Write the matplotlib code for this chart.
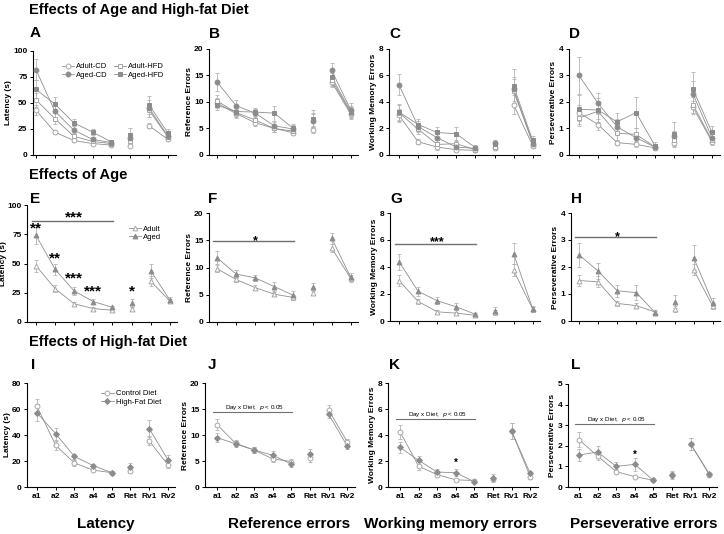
'''Morris水迷宫行为学结果：年龄与高脂饮食的影响（12个小图）'''

import matplotlib.pyplot as plt
from matplotlib.lines import Line2D
import numpy as np

plt.rcParams['font.family'] = ['Liberation Sans', 'DejaVu Sans']

days = ['a1', 'a2', 'a3', 'a4', 'a5', 'Ret', 'Rv1', 'Rv2']

# ---------- A-D：年龄 x 饮食 四组 ----------
lat_adult_cd = [43, 22, 14, 11, 9.5, 9, 28, 15]
lat_adult_cd_se = [5, 1.5, 1.5, 1, 1, 1.5, 2.5, 1.5]
lat_aged_cd = [82, 42, 24, 15, 12, 16, 45, 18]
lat_aged_cd_se = [10, 6, 3.5, 2, 1.5, 5, 8, 3]
lat_adult_hfd = [53, 35, 18, 13, 11, 13, 43, 17]
lat_adult_hfd_se = [7, 5, 3, 2, 1.5, 4, 6, 3]
lat_aged_hfd = [63, 49, 31, 22, 12.5, 19, 48, 21]
lat_aged_hfd_se = [9, 7, 3.5, 3, 2, 7, 9, 4]

ref_adult_cd = [9.8, 7.8, 6.1, 5.0, 4.2, 4.7, 13.8, 7.7]
ref_adult_cd_se = [1, 0.8, 0.7, 0.6, 0.5, 0.5, 1.0, 0.9]
ref_aged_cd = [13.8, 9.3, 7.9, 5.5, 4.9, 6.5, 16.0, 8.5]
ref_aged_cd_se = [1.7, 1.0, 0.8, 0.8, 0.8, 1.5, 1.3, 1.3]
ref_adult_hfd = [10.2, 8.0, 6.6, 5.0, 4.5, 6.6, 14.2, 8.0]
ref_adult_hfd_se = [1.2, 0.9, 0.8, 0.6, 0.6, 1.2, 1.2, 1.0]
ref_aged_hfd = [9.4, 8.2, 8.1, 7.9, 5.0, 6.8, 14.7, 8.2]
ref_aged_hfd_se = [1.0, 0.9, 0.8, 1.4, 0.8, 1.6, 1.4, 1.1]

wm_adult_cd = [3.0, 1.0, 0.6, 0.4, 0.35, 0.5, 3.8, 0.7]
wm_adult_cd_se = [0.5, 0.2, 0.2, 0.15, 0.1, 0.15, 0.7, 0.2]
wm_aged_cd = [5.3, 2.15, 1.3, 0.6, 0.5, 0.9, 5.0, 0.85]
wm_aged_cd_se = [0.8, 0.4, 0.3, 0.2, 0.15, 0.2, 0.9, 0.2]
wm_adult_hfd = [3.2, 1.95, 0.8, 0.85, 0.4, 0.6, 4.8, 1.0]
wm_adult_hfd_se = [0.6, 0.4, 0.3, 0.3, 0.15, 0.2, 0.9, 0.25]
wm_aged_hfd = [3.25, 2.3, 1.7, 1.6, 0.55, 0.8, 5.2, 1.1]
wm_aged_hfd_se = [0.6, 0.4, 0.45, 0.55, 0.2, 0.25, 1.3, 0.3]

pe_adult_cd = [1.6, 1.15, 0.47, 0.4, 0.27, 0.45, 1.8, 0.5]
pe_adult_cd_se = [0.3, 0.2, 0.1, 0.1, 0.08, 0.15, 0.25, 0.12]
pe_aged_cd = [3.0, 1.95, 1.07, 0.65, 0.3, 0.72, 2.3, 0.65]
pe_aged_cd_se = [0.7, 0.4, 0.3, 0.2, 0.1, 0.2, 0.5, 0.2]
pe_adult_hfd = [1.4, 1.65, 0.82, 0.78, 0.3, 0.55, 1.9, 0.55]
pe_adult_hfd_se = [0.3, 0.4, 0.25, 0.25, 0.1, 0.2, 0.3, 0.15]
pe_aged_hfd = [1.72, 1.7, 1.25, 1.6, 0.35, 0.8, 2.48, 0.85]
pe_aged_hfd_se = [0.55, 0.45, 0.33, 0.57, 0.15, 0.43, 0.65, 0.23]

# ---------- E-H：年龄效应 ----------
lat_adult = [48, 28.5, 15.5, 11.5, 10, 11, 35, 18]
lat_adult_se = [5, 3, 1.5, 1, 1, 1.5, 4.5, 1.5]
lat_aged = [74, 45, 26.5, 17.5, 12.5, 16, 44, 19]
lat_aged_se = [7, 5, 3, 2, 1.5, 3.5, 6, 2]

ref_adult = [9.8, 7.8, 6.3, 5.1, 4.5, 5.4, 13.6, 8.0]
ref_adult_se = [0.7, 0.5, 0.5, 0.4, 0.4, 0.5, 0.8, 0.6]
ref_aged = [11.8, 8.8, 8.1, 6.5, 4.9, 6.4, 15.4, 8.2]
ref_aged_se = [1.2, 0.7, 0.6, 0.8, 0.8, 0.8, 1.0, 0.7]

wm_adult = [3.0, 1.45, 0.68, 0.58, 0.42, 0.65, 3.75, 0.88]
wm_adult_se = [0.4, 0.2, 0.1, 0.1, 0.08, 0.15, 0.45, 0.15]
wm_aged = [4.4, 2.2, 1.5, 1.05, 0.5, 0.75, 5.0, 0.9]
wm_aged_se = [0.6, 0.35, 0.25, 0.25, 0.1, 0.3, 0.75, 0.2]

pe_adult = [1.5, 1.45, 0.65, 0.57, 0.33, 0.45, 1.9, 0.55]
pe_adult_se = [0.2, 0.2, 0.1, 0.1, 0.06, 0.12, 0.2, 0.1]
pe_aged = [2.45, 1.85, 1.12, 1.05, 0.3, 0.72, 2.35, 0.68]
pe_aged_se = [0.45, 0.3, 0.22, 0.27, 0.08, 0.25, 0.45, 0.18]

# ---------- I-L：高脂饮食效应 ----------
lat_cd = [62, 32, 18.5, 13, 11, 12, 35.5, 17]
lat_cd_se = [6, 3.5, 2, 1, 1, 1.5, 3.5, 2]
lat_hfd = [57, 41, 23.5, 16.5, 11, 15.5, 45, 21]
lat_hfd_se = [6.5, 4.5, 2, 1.5, 1, 3, 6.5, 3.5]

ref_cd = [12, 8.4, 7.1, 5.4, 4.9, 5.5, 14.8, 8.7]
ref_cd_se = [1.0, 0.6, 0.5, 0.5, 0.5, 0.6, 1.0, 0.5]
ref_hfd = [9.5, 8.3, 7.1, 6.1, 4.4, 6.4, 14.0, 7.9]
ref_hfd_se = [0.8, 0.6, 0.5, 0.8, 0.5, 1.0, 0.8, 0.6]

wm_cd = [4.25, 1.6, 0.95, 0.55, 0.5, 0.65, 4.3, 0.8]
wm_cd_se = [0.55, 0.3, 0.15, 0.1, 0.08, 0.15, 0.6, 0.2]
wm_hfd = [3.05, 2.05, 1.15, 1.1, 0.4, 0.7, 4.3, 1.05]
wm_hfd_se = [0.45, 0.35, 0.2, 0.25, 0.1, 0.3, 0.6, 0.2]

pe_cd = [2.3, 1.5, 0.75, 0.5, 0.33, 0.6, 2.1, 0.6]
pe_cd_se = [0.35, 0.2, 0.12, 0.06, 0.05, 0.15, 0.3, 0.1]
pe_hfd = [1.55, 1.7, 1.0, 1.1, 0.32, 0.6, 2.08, 0.65]
pe_hfd_se = [0.3, 0.3, 0.2, 0.3, 0.05, 0.2, 0.3, 0.1]

W, H = 724, 534
fill_c = '#8c8c8c'   # 实心灰色
open_c = '#a8a8a8'   # 空心点边框
line_c = '#8f8f8f'
err_c = '#b4b4b4'

fig = plt.figure(figsize=(W / 100, H / 100), dpi=100)
x = np.arange(len(days))


def make_ax(L, T, S, top, bottom, ymax, ystep, ylabel, xlabels=False):
    # L:y轴像素位置 T:第一个刻度像素 S:刻度间距
    right = T + 7.4 * S
    ax = fig.add_axes([L / W, 1 - bottom / H, (right - L) / W, (bottom - top) / H])
    ax.set_xlim(-(T - L) / S, 7.4)
    ax.set_ylim(0, ymax)
    ax.set_yticks(np.arange(0, ymax + ystep / 2, ystep))
    ax.set_xticks(x)
    if xlabels:
        ax.set_xticklabels(days)
    else:
        ax.set_xticklabels([])
    ax.spines['top'].set_visible(False)
    ax.spines['right'].set_visible(False)
    for s in ['left', 'bottom']:
        ax.spines[s].set_linewidth(0.8)
    ax.tick_params(direction='out', length=2.5, width=0.7, labelsize=6, pad=1.5)
    for lb in ax.get_yticklabels() + ax.get_xticklabels():
        lb.set_fontweight('bold')
    ax.set_ylabel(ylabel, fontsize=6, fontweight='bold', labelpad=1)
    return ax


def draw(ax, m, e, marker, filled, ms=3.5):
    m = np.array(m)
    fc = fill_c if filled else 'white'
    ec = fill_c if filled else open_c
    ax.errorbar(x, m, yerr=e, fmt='none', ecolor=err_c, elinewidth=0.6,
                capsize=1.5, capthick=0.6, zorder=2)
    for seg in (slice(0, 5), slice(6, 8)):
        ax.plot(x[seg], m[seg], color=line_c, lw=0.6, zorder=3)
    ax.plot(x, m, ls='none', marker=marker, ms=ms, mfc=fc, mec=ec, mew=0.7, zorder=4)


def handle(marker, filled, ms=3.5):
    fc = fill_c if filled else 'white'
    ec = fill_c if filled else open_c
    return Line2D([0], [0], color=line_c, lw=0.6, marker=marker, ms=ms, mfc=fc, mec=ec, mew=0.7)


def sig_bar(ax, y, label, size, bold=True, dy=0.0):
    ax.plot([-0.2, 4.05], [y, y], color='#707070', lw=1, clip_on=False)
    ax.text(2, y + dy, label, ha='center', va='bottom', fontsize=size,
            fontweight='bold' if bold else 'normal')


def dxd(ax, y):
    ax.plot([-0.2, 4.05], [y, y], color='#707070', lw=0.8, clip_on=False)
    ax.text(2, y, 'Day x Diet,  $\\it{p}$ < 0.05', ha='center', va='bottom', fontsize=4.5)


# ---------- 第一行 ----------
axA = make_ax(33, 36, 18.86, 51, 155, 100, 25, 'Latency (s)')
axB = make_ax(209, 217, 19.1, 49, 155, 20, 5, 'Reference Errors')
axC = make_ax(389, 399, 19.1, 49, 155, 8, 2, 'Working Memory Errors')
axD = make_ax(569, 579, 19.0, 49, 155, 4, 1, 'Perseverative Errors')
row1 = [(axA, lat_adult_cd, lat_adult_cd_se, lat_aged_cd, lat_aged_cd_se,
         lat_adult_hfd, lat_adult_hfd_se, lat_aged_hfd, lat_aged_hfd_se),
        (axB, ref_adult_cd, ref_adult_cd_se, ref_aged_cd, ref_aged_cd_se,
         ref_adult_hfd, ref_adult_hfd_se, ref_aged_hfd, ref_aged_hfd_se),
        (axC, wm_adult_cd, wm_adult_cd_se, wm_aged_cd, wm_aged_cd_se,
         wm_adult_hfd, wm_adult_hfd_se, wm_aged_hfd, wm_aged_hfd_se),
        (axD, pe_adult_cd, pe_adult_cd_se, pe_aged_cd, pe_aged_cd_se,
         pe_adult_hfd, pe_adult_hfd_se, pe_aged_hfd, pe_aged_hfd_se)]
for ax, a1, a1e, a2, a2e, a3, a3e, a4, a4e in row1:
    draw(ax, a1, a1e, 'o', False)
    draw(ax, a3, a3e, 's', False)
    draw(ax, a2, a2e, 'o', True)
    draw(ax, a4, a4e, 's', True)
axA.legend([handle('o', False), handle('o', True), handle('s', False), handle('s', True)],
           ['Adult-CD', 'Aged-CD', 'Adult-HFD', 'Aged-HFD'], ncol=2, frameon=False,
           fontsize=5.5, loc='upper right', bbox_to_anchor=(0.95, 0.92), handlelength=1.6,
           handletextpad=0.3, columnspacing=0.8, labelspacing=0.15, borderpad=0)

# ---------- 第二行 ----------
axE = make_ax(27, 36, 19.1, 205, 322, 100, 25, 'Latency (s)')
axF = make_ax(209, 217, 19.1, 213, 322, 20, 5, 'Reference Errors')
axG = make_ax(390, 399, 19.1, 213, 321, 8, 2, 'Working Memory Errors')
axH = make_ax(571, 579, 19.1, 213, 321, 4, 1, 'Perseverative Errors')
axE.yaxis.labelpad = 0
for ax, m1, e1, m2, e2 in [(axE, lat_adult, lat_adult_se, lat_aged, lat_aged_se),
                           (axF, ref_adult, ref_adult_se, ref_aged, ref_aged_se),
                           (axG, wm_adult, wm_adult_se, wm_aged, wm_aged_se),
                           (axH, pe_adult, pe_adult_se, pe_aged, pe_aged_se)]:
    draw(ax, m1, e1, '^', False)
    draw(ax, m2, e2, '^', True)
axE.legend([handle('^', False), handle('^', True)], ['Adult', 'Aged'], frameon=False,
           fontsize=5.5, loc='upper right', bbox_to_anchor=(0.92, 0.86), handlelength=1.6,
           handletextpad=0.3, labelspacing=0.15, borderpad=0)

sig_bar(axE, 86, '***', 11, dy=-3)
for xi, yi, s in [(0, 74, '**'), (1, 48, '**'), (2, 31, '***'), (3, 20, '***'), (5, 20, '*')]:
    axE.text(xi, yi, s, ha='center', va='bottom', fontsize=11, fontweight='bold')
sig_bar(axF, 14.8, '*', 9, dy=-1)
sig_bar(axG, 5.7, '***', 9, dy=-0.3)
sig_bar(axH, 3.1, '*', 9, dy=-0.2)

# ---------- 第三行 ----------
axI = make_ax(27, 37, 18.7, 383, 487, 80, 20, 'Latency (s)', True)
axJ = make_ax(205, 217, 18.6, 383, 487, 20, 5, 'Reference Errors', True)
axK = make_ax(388, 400, 18.6, 383, 487, 8, 2, 'Working Memory Errors', True)
axL = make_ax(568, 579, 18.6, 384, 487, 5, 1, 'Perseverative Errors', True)
for ax, m1, e1, m2, e2 in [(axI, lat_cd, lat_cd_se, lat_hfd, lat_hfd_se),
                           (axJ, ref_cd, ref_cd_se, ref_hfd, ref_hfd_se),
                           (axK, wm_cd, wm_cd_se, wm_hfd, wm_hfd_se),
                           (axL, pe_cd, pe_cd_se, pe_hfd, pe_hfd_se)]:
    draw(ax, m1, e1, 'o', False)
    draw(ax, m2, e2, 'D', True, ms=3)
axI.legend([handle('o', False), handle('D', True, 3)], ['Control Diet', 'High-Fat Diet'],
           frameon=False, fontsize=5.5, loc='upper right', bbox_to_anchor=(0.93, 0.97),
           handlelength=1.6, handletextpad=0.3, labelspacing=0.15, borderpad=0)
dxd(axJ, 14.5)
dxd(axK, 5.2)
dxd(axL, 3.06)
axK.text(3, 1.45, '*', ha='center', va='bottom', fontsize=7, fontweight='bold')
axL.text(3, 1.3, '*', ha='center', va='bottom', fontsize=7, fontweight='bold')

# ---------- 标题、字母、列标题 ----------
def ftext(px, py, s, size, ha='left'):
    fig.text(px / W, 1 - py / H, s, fontsize=size, fontweight='bold', ha=ha, va='center')


ftext(29, 10, 'Effects of Age and High-fat Diet', 10.5)
ftext(29, 175, 'Effects of Age', 10.5)
ftext(29, 342, 'Effects of High-fat Diet', 10.5)
for px, py, s in [(30, 33, 'A'), (209, 34, 'B'), (389, 34, 'C'), (569, 34, 'D'),
                  (30, 199, 'E'), (208, 199, 'F'), (390, 199, 'G'), (571, 199, 'H'),
                  (31, 365, 'I'), (208, 365, 'J'), (389, 365, 'K'), (571, 365, 'L')]:
    ftext(px, py, s, 11)
for px, s in [(106, 'Latency'), (289, 'Reference errors'), (450, 'Working memory errors'),
              (644, 'Perseverative errors')]:
    ftext(px, 524, s, 11, ha='center')

fig.savefig('out.png', dpi=100)
